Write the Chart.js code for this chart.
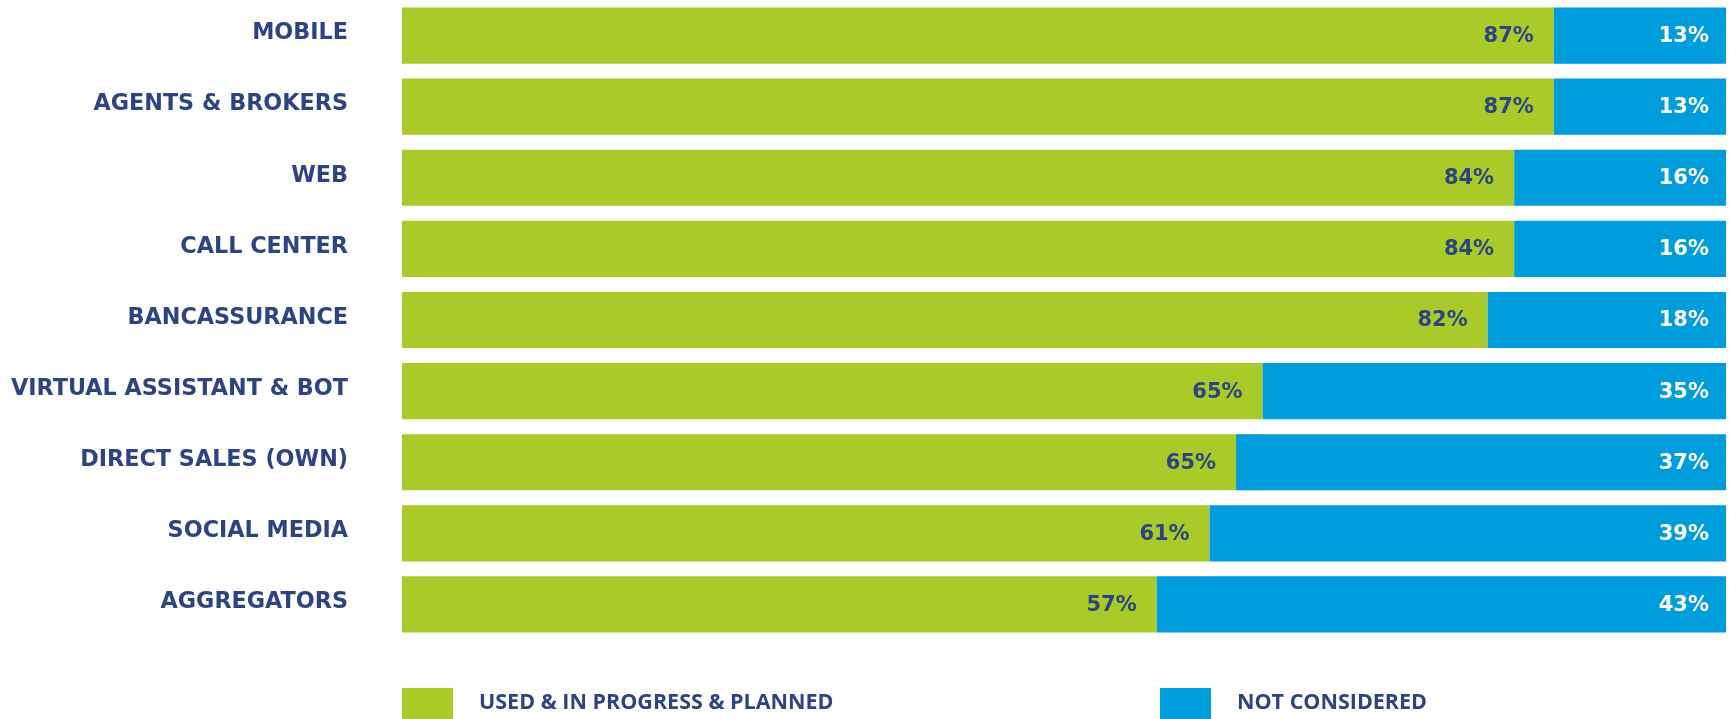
<!DOCTYPE html>
<html>
<head>
<meta charset="utf-8">
<script src="https://cdn.jsdelivr.net/npm/chart.js@4/dist/chart.umd.min.js"></script>
<style>
    html, body { margin: 0; padding: 0; background: #fff; }
    #wrap { width: 1729px; height: 719px; }
</style>
</head>
<body>
<div id="wrap"><canvas id="channelsChart" width="1729" height="719"></canvas></div>
<script>
const categories = ['MOBILE', 'AGENTS & BROKERS', 'WEB', 'CALL CENTER', 'BANCASSURANCE',
    'VIRTUAL ASSISTANT & BOT', 'DIRECT SALES (OWN)', 'SOCIAL MEDIA', 'AGGREGATORS'];
const usedValues = [87, 87, 84, 84, 82, 65, 65, 61, 57];
const notConsideredValues = [13, 13, 16, 16, 18, 35, 37, 39, 43];
const seriesNames = ['USED & IN PROGRESS & PLANNED', 'NOT CONSIDERED'];

const GREEN = '#a9ca28';
const BLUE = '#009ddc';
const NAVY = '#2c4482';

// value labels inside the bars
const valueLabels = {
    id: 'valueLabels',
    afterDatasetsDraw(chart) {
        const ctx = chart.ctx;
        const used = chart.getDatasetMeta(0).data;
        const notCons = chart.getDatasetMeta(1).data;
        ctx.save();
        ctx.font = 'bold 21px "DejaVu Sans"';
        ctx.textAlign = 'right';
        ctx.textBaseline = 'middle';
        used.forEach((bar, i) => {
            // green end can sit under the blue bar (65 + 37 > 100)
            const end = Math.min(bar.x, notCons[i].base);
            ctx.fillStyle = NAVY;
            ctx.fillText(usedValues[i] + '%', end - 20, bar.y + 1);
        });
        notCons.forEach((bar, i) => {
            ctx.fillStyle = '#ffffff';
            ctx.fillText(notConsideredValues[i] + '%', bar.x - 17, bar.y + 1);
        });
        ctx.restore();
    }
};

// legend at the bottom, squares run off the edge like the original
const bottomLegend = {
    id: 'bottomLegend',
    afterDraw(chart) {
        const ctx = chart.ctx;
        const spots = [402, 1160];
        ctx.save();
        ctx.font = 'bold 21.5px "Open Sans"';
        ctx.textBaseline = 'middle';
        chart.data.datasets.forEach((ds, i) => {
            ctx.fillStyle = ds.backgroundColor;
            ctx.fillRect(spots[i], 688, 51, 40);
            ctx.fillStyle = NAVY;
            ctx.fillText(ds.label, spots[i] + 77, 703);
        });
        ctx.restore();
    }
};

new Chart(document.getElementById('channelsChart').getContext('2d'), {
    type: 'bar',
    data: {
        labels: categories,
        datasets: [{
            label: seriesNames[0],
            data: usedValues,
            backgroundColor: GREEN,
            grouped: false,
            order: 1
        }, {
            label: seriesNames[1],
            data: notConsideredValues.map(v => [100 - v, 100]),
            backgroundColor: BLUE,
            grouped: false,
            order: 0
        }]
    },
    options: {
        indexAxis: 'y',
        responsive: false,
        animation: false,
        barPercentage: 0.79,
        categoryPercentage: 1,
        layout: { padding: { top: 0, right: 3, bottom: 79, left: 0 } },
        plugins: {
            legend: { display: false },
            tooltip: { enabled: false }
        },
        scales: {
            x: { min: 0, max: 100, display: false },
            y: {
                grid: { display: false, drawTicks: false },
                border: { display: false },
                ticks: {
                    color: NAVY,
                    padding: 54,
                    labelOffset: -2,
                    font: { family: 'DejaVu Sans', weight: 'bold', size: 22.3 }
                },
                afterFit(scale) {
                    scale.width = 402;
                    scale.paddingTop = 0;
                    scale.paddingBottom = 0;
                }
            }
        }
    },
    plugins: [valueLabels, bottomLegend]
});
</script>
</body>
</html>
